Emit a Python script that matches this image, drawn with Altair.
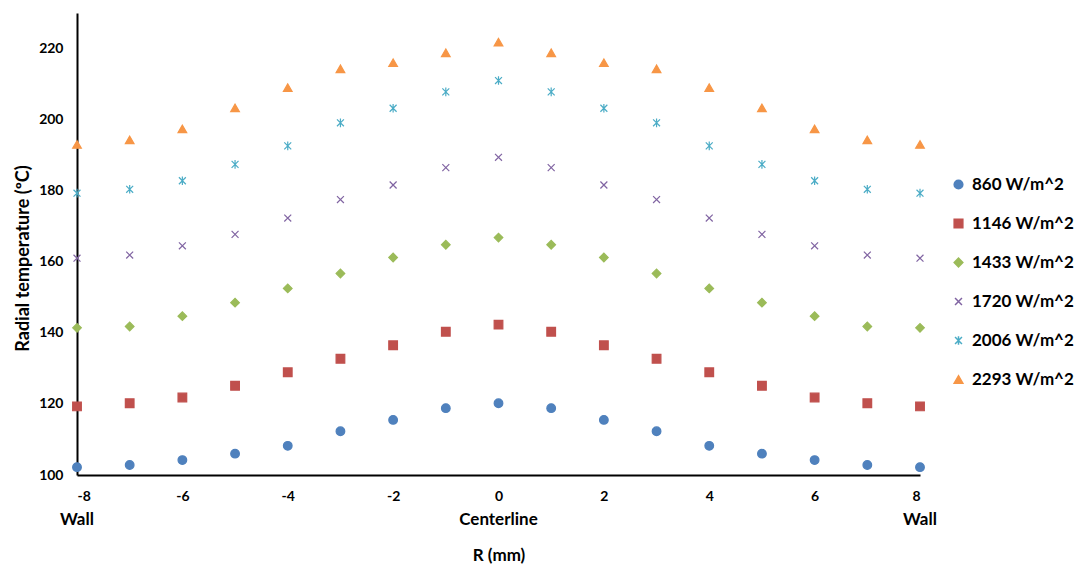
import altair as alt
import pandas as pd

r_mm = [-8, -7, -6, -5, -4, -3, -2, -1, 0, 1, 2, 3, 4, 5, 6, 7, 8]

s860 = [102.2, 102.8, 104.2, 106.0, 108.2, 112.3, 115.5, 118.8, 120.2, 118.8, 115.5, 112.3, 108.2, 106.0, 104.2, 102.8, 102.2]
s1146 = [119.3, 120.2, 121.8, 125.1, 128.9, 132.7, 136.5, 140.3, 142.3, 140.3, 136.5, 132.7, 128.9, 125.1, 121.8, 120.2, 119.3]
s1433 = [141.4, 141.8, 144.7, 148.5, 152.5, 156.7, 161.2, 164.8, 166.8, 164.8, 161.2, 156.7, 152.5, 148.5, 144.7, 141.8, 141.4]
s1720 = [161.0, 161.9, 164.5, 167.7, 172.3, 177.5, 181.6, 186.5, 189.4, 186.5, 181.6, 177.5, 172.3, 167.7, 164.5, 161.9, 161.0]
s2006 = [179.3, 180.4, 182.8, 187.4, 192.6, 199.1, 203.2, 207.8, 211.0, 207.8, 203.2, 199.1, 192.6, 187.4, 182.8, 180.4, 179.3]
s2293 = [193.0, 194.3, 197.4, 203.3, 209.0, 214.3, 216.0, 218.8, 221.8, 218.8, 216.0, 214.3, 209.0, 203.3, 197.4, 194.3, 193.0]

series_names = ["860 W/m^2", "1146 W/m^2", "1433 W/m^2", "1720 W/m^2", "2006 W/m^2", "2293 W/m^2"]
series_values = [s860, s1146, s1433, s1720, s2006, s2293]
colors = ["#4F81BD", "#C0504D", "#9BBB59", "#8064A2", "#4BACC6", "#F79646"]
shapes = ["circle", "square", "diamond",
          "M-0.8,-0.8L0.8,0.8M-0.8,0.8L0.8,-0.8",
          "M-0.8,-0.8L0.8,0.8M-0.8,0.8L0.8,-0.8M0,-1L0,1",
          "triangle-up"]
sizes = [75, 75, 50, 110, 120, 90]

y_ticks = [100, 120, 140, 160, 180, 200, 220]
x_ticks = [-8, -6, -4, -2, 0, 2, 4, 6, 8]
pos_labels_x = [-8, 0, 8]
pos_labels_text = ["Wall", "Centerline", "Wall"]

rows = []
for name, vals in zip(series_names, series_values):
    for x, v in zip(r_mm, vals):
        rows.append({"R": x, "T": v, "Series": name})
df = pd.DataFrame(rows)

FONT = "Lato"
W, H = 843, 462

xscale = alt.Scale(domain=[-8, 8], nice=False)

points = alt.Chart(df).mark_point(filled=True, strokeWidth=1.2, opacity=1).encode(
    x=alt.X("R:Q", scale=xscale,
            axis=alt.Axis(values=x_ticks, title="R (mm)", grid=False, ticks=False,
                          labelExpr="'' + datum.value",
                          domainColor="black", domainWidth=2, labelFont=FONT,
                          labelFontWeight="bold", labelFontSize=14, labelColor="black",
                          labelPadding=14, titleFont=FONT, titleFontSize=17,
                          titleFontWeight="bold", titleColor="black", titlePadding=44)),
    y=alt.Y("T:Q", scale=alt.Scale(domain=[100, 230], nice=False),
            axis=alt.Axis(values=y_ticks, title="Radial temperature (ºC)", grid=False,
                          ticks=False, domainColor="black", domainWidth=2,
                          labelFont=FONT, labelFontWeight="bold", labelFontSize=14,
                          labelColor="black", labelPadding=14, titleFont=FONT,
                          titleFontSize=18, titleFontWeight="bold", titleColor="black",
                          titlePadding=6, titleY=245)),
    color=alt.Color("Series:N", scale=alt.Scale(domain=series_names, range=colors),
                    legend=alt.Legend(title=None, orient="none", legendX=873, legendY=163,
                                      labelFont=FONT, labelFontSize=17,
                                      labelFontWeight="bold", labelColor="black",
                                      rowPadding=21, labelOffset=5,
                                      padding=0)),
    stroke=alt.Stroke("Series:N", scale=alt.Scale(domain=series_names, range=colors)),
    shape=alt.Shape("Series:N", scale=alt.Scale(domain=series_names, range=shapes)),
    size=alt.Size("Series:N", scale=alt.Scale(domain=series_names, range=sizes)),
)

pos_df = pd.DataFrame({"R": pos_labels_x, "label": pos_labels_text})
pos_text = alt.Chart(pos_df).mark_text(font=FONT, fontSize=17, fontWeight="bold",
                                       color="black", baseline="middle").encode(
    x=alt.X("R:Q", scale=xscale),
    y=alt.value(H + 45),
    text="label:N",
)

chart = alt.layer(points, pos_text).properties(
    width=W, height=H,
    autosize=alt.AutoSizeParams(type="none"),
    padding={"left": 69, "top": 5, "right": 160, "bottom": 90},
).configure_view(stroke=None)

chart.save("out.html", embed_options={"renderer": "svg", "actions": False})
